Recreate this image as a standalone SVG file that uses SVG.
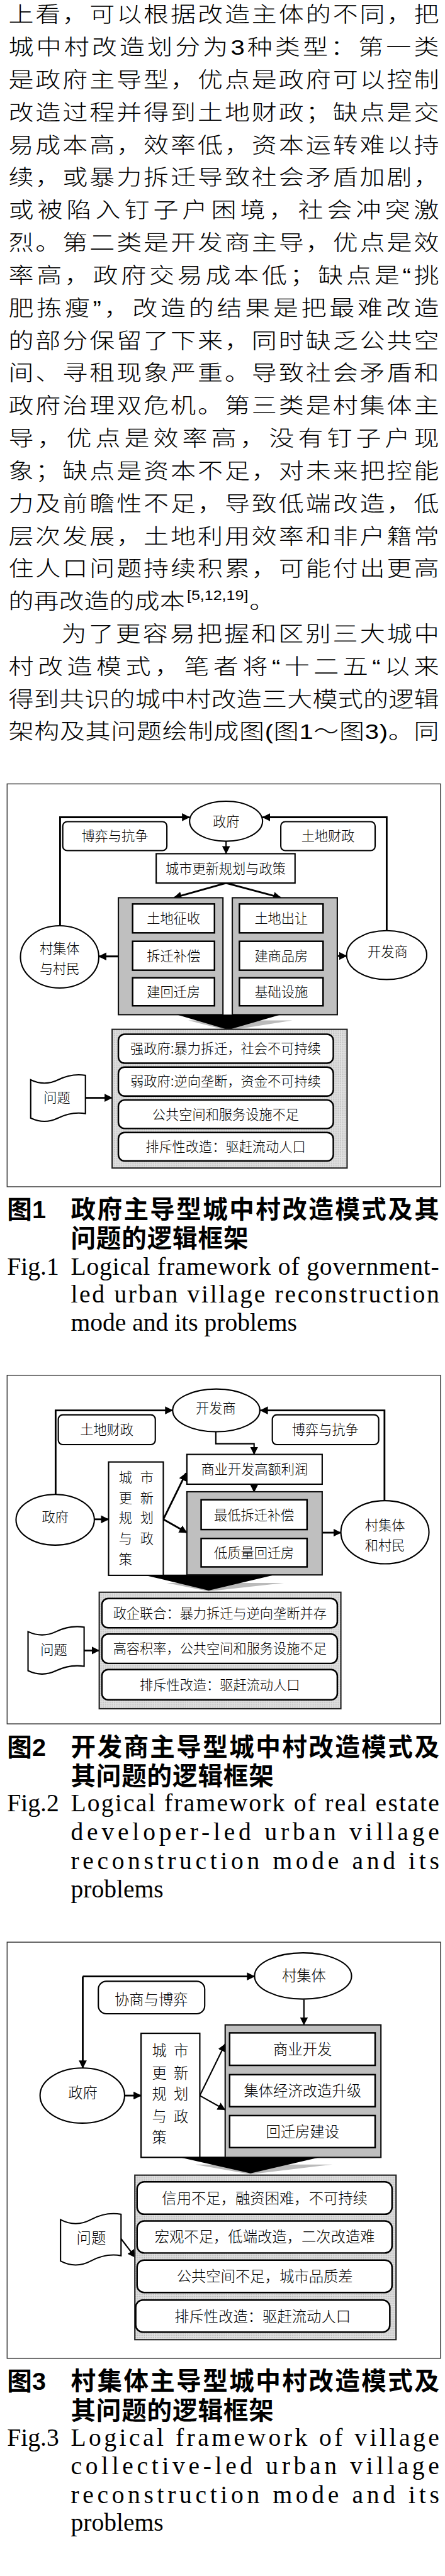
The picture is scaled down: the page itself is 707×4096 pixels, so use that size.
<svg xmlns="http://www.w3.org/2000/svg" width="707" height="4096" viewBox="0 0 707 4096">
<defs>
<style>
text{fill:#000}
.bt{font-family:"Liberation Sans","Noto Sans CJK SC",sans-serif;font-size:48px;font-weight:300}
.sup{font-family:"Liberation Sans",sans-serif;font-size:30px}
.cap{font-family:"Liberation Sans","Noto Sans CJK SC",sans-serif;font-size:56px;font-weight:700}
.en{font-family:"Liberation Serif",serif;font-size:56px}
.l30{font-family:"Liberation Sans","Noto Sans CJK SC",sans-serif;font-size:30px;text-anchor:middle;font-weight:300}
.l33{font-family:"Liberation Sans","Noto Sans CJK SC",sans-serif;font-size:33px;text-anchor:middle;font-weight:300}
.frame{fill:#fff;stroke:#333;stroke-width:2}
.box{fill:#fff;stroke:#000;stroke-width:3}
.ibox{fill:#fff;stroke:#000;stroke-width:3.5}
.gp{fill:#bfbfbf;stroke:#111;stroke-width:3}
.pp{fill:url(#dots);stroke:#222;stroke-width:3}
.rb{fill:#fff;stroke:#000;stroke-width:3.5}
.el{fill:#fff;stroke:#000;stroke-width:3}
.c{fill:none;stroke:#000;stroke-width:3}
.ct{fill:none;stroke:#000;stroke-width:4}
.c2{fill:none;stroke:#000;stroke-width:2}
</style>
<pattern id="dots" patternUnits="userSpaceOnUse" width="4" height="4"><rect width="4" height="4" fill="#e2e2e2"/><rect width="2" height="2" fill="#b2b2b2"/></pattern>
<marker id="ah" markerUnits="userSpaceOnUse" markerWidth="18" markerHeight="18" refX="17" refY="9" orient="auto" viewBox="0 0 18 18"><path d="M0,0 L18,9 L0,18 Z" fill="#000"/></marker>
</defs>
<rect width="707" height="4096" fill="#fff"/>
<g transform="scale(0.707)">

<!-- body text -->
<g id="bodytext" transform="scale(1.18,1)">
<text class="bt" x="16.1" y="50" textLength="820" lengthAdjust="spacing">上看，可以根据改造主体的不同，把</text>
<text class="bt" x="16.1" y="123.3" textLength="820" lengthAdjust="spacing">城中村改造划分为3种类型：第一类</text>
<text class="bt" x="16.1" y="196.6" textLength="820" lengthAdjust="spacing">是政府主导型，优点是政府可以控制</text>
<text class="bt" x="16.1" y="269.9" textLength="820" lengthAdjust="spacing">改造过程并得到土地财政；缺点是交</text>
<text class="bt" x="16.1" y="343.2" textLength="820" lengthAdjust="spacing">易成本高，效率低，资本运转难以持</text>
<text class="bt" x="16.1" y="416.5" textLength="820" lengthAdjust="spacing">续，或暴力拆迁导致社会矛盾加剧，</text>
<text class="bt" x="16.1" y="489.8" textLength="820" lengthAdjust="spacing">或被陷入钉子户困境，社会冲突激</text>
<text class="bt" x="16.1" y="563.1" textLength="820" lengthAdjust="spacing">烈。第二类是开发商主导，优点是效</text>
<text class="bt" x="16.1" y="636.4" textLength="820" lengthAdjust="spacing">率高，政府交易成本低；缺点是“挑</text>
<text class="bt" x="16.1" y="709.7" textLength="820" lengthAdjust="spacing">肥拣瘦”，改造的结果是把最难改造</text>
<text class="bt" x="16.1" y="783" textLength="820" lengthAdjust="spacing">的部分保留了下来，同时缺乏公共空</text>
<text class="bt" x="16.1" y="856.3" textLength="820" lengthAdjust="spacing">间、寻租现象严重。导致社会矛盾和</text>
<text class="bt" x="16.1" y="929.6" textLength="820" lengthAdjust="spacing">政府治理双危机。第三类是村集体主</text>
<text class="bt" x="16.1" y="1002.9" textLength="820" lengthAdjust="spacing">导，优点是效率高，没有钉子户现</text>
<text class="bt" x="16.1" y="1076.2" textLength="820" lengthAdjust="spacing">象；缺点是资本不足，对未来把控能</text>
<text class="bt" x="16.1" y="1149.5" textLength="820" lengthAdjust="spacing">力及前瞻性不足，导致低端改造，低</text>
<text class="bt" x="16.1" y="1222.8" textLength="820" lengthAdjust="spacing">层次发展，土地利用效率和非户籍常</text>
<text class="bt" x="16.1" y="1296.1" textLength="820" lengthAdjust="spacing">住人口问题持续积累，可能付出更高</text>
<text class="bt" x="16.1" y="1369.4">的再改造的成本</text>
<text class="sup" x="356" y="1350">[5,12,19]</text>
<text class="bt" x="475" y="1369.4">。</text>
<text class="bt" x="117" y="1442.7" textLength="719.5" lengthAdjust="spacing">为了更容易把握和区别三大城中</text>
<text class="bt" x="16.1" y="1516" textLength="820" lengthAdjust="spacing">村改造模式，笔者将“十二五“以来</text>
<text class="bt" x="16.1" y="1589.3" textLength="820" lengthAdjust="spacing">得到共识的城中村改造三大模式的逻辑</text>
<text class="bt" x="16.1" y="1662.6" textLength="820" lengthAdjust="spacing">架构及其问题绘制成图(图1～图3)。同</text>
</g>

<!-- ================= Figure 1 ================= -->
<rect id="fig1-frame" class="frame" x="16" y="1763" width="974" height="906"/>
<g id="fig1-connectors">
<path class="ct" d="M135,2082 V1838 H426" marker-end="url(#ah)"/>
<path class="ct" d="M869,2093 V1838 H590" marker-end="url(#ah)"/>
<path class="c" d="M508,1892 V1920" marker-end="url(#ah)"/>
<path class="ct" d="M508,1986 L391,2019" marker-end="url(#ah)"/>
<path class="ct" d="M508,1986 L631,2019" marker-end="url(#ah)"/>
<path class="ct" d="M266,2151 H222" marker-end="url(#ah)"/>
<path class="ct" d="M758,2150 H779" marker-end="url(#ah)"/>
<path class="ct" d="M192,2469 H252" marker-end="url(#ah)"/>
</g>
<g id="f1-gov"><ellipse class="el" cx="508" cy="1847" rx="82" ry="45"/><text class="l30" x="508" y="1858">政府</text></g>
<g id="f1-game"><rect class="box" x="141" y="1848" width="234" height="65" rx="10"/><text class="l30" x="258" y="1891">博弈与抗争</text></g>
<g id="f1-landfin"><rect class="box" x="631" y="1848" width="212" height="65" rx="10"/><text class="l30" x="737" y="1891">土地财政</text></g>
<g id="f1-plan"><rect class="box" x="351" y="1920" width="312" height="66"/><text class="l30" x="507" y="1964">城市更新规划与政策</text></g>
<g id="f1-left">
<rect class="gp" x="266" y="2019" width="235" height="263"/>
<rect class="ibox" x="298" y="2033" width="184" height="65"/><text class="l30" x="390" y="2076">土地征收</text>
<rect class="ibox" x="298" y="2117" width="184" height="65"/><text class="l30" x="390" y="2161">拆迁补偿</text>
<rect class="ibox" x="298" y="2199" width="184" height="63"/><text class="l30" x="390" y="2242">建回迁房</text>
</g>
<g id="f1-right">
<rect class="gp" x="522" y="2019" width="236" height="263"/>
<rect class="ibox" x="538" y="2033" width="188" height="65"/><text class="l30" x="632" y="2076">土地出让</text>
<rect class="ibox" x="538" y="2117" width="188" height="65"/><text class="l30" x="632" y="2161">建商品房</text>
<rect class="ibox" x="538" y="2199" width="188" height="63"/><text class="l30" x="632" y="2242">基础设施</text>
</g>
<g id="f1-village"><ellipse class="el" cx="134" cy="2152" rx="88" ry="70"/><text class="l30" x="134" y="2144">村集体</text><text class="l30" x="134" y="2189">与村民</text></g>
<g id="f1-dev"><ellipse class="el" cx="869" cy="2148" rx="90" ry="55"/><text class="l30" x="871" y="2151">开发商</text></g>
<g id="f1-funnel"><polygon points="423,2295 657,2295 513,2318" fill="#bbb"/><polygon points="397,2282 631,2282 513,2316" fill="#000"/></g>
<g id="f1-problems">
<rect class="pp" x="252" y="2315" width="528" height="312"/>
<rect class="rb" x="266" y="2326" width="483" height="65" rx="14"/><text class="l30" x="507" y="2369">强政府:暴力拆迁，社会不可持续</text>
<rect class="rb" x="266" y="2400" width="483" height="65" rx="14"/><text class="l30" x="507" y="2443">弱政府:逆向垄断，资金不可持续</text>
<rect class="rb" x="266" y="2474" width="483" height="64" rx="14"/><text class="l30" x="507" y="2517">公共空间和服务设施不足</text>
<rect class="rb" x="266" y="2547" width="483" height="64" rx="14"/><text class="l30" x="507" y="2590">排斥性改造：驱赶流动人口</text>
</g>
<g id="f1-issue"><path class="c" style="fill:#fff" d="M69,2428.5 Q99.75,2443.5 130.5,2428.5 T192,2418.5 L192,2504.5 Q161.25,2499.5 130.5,2514.5 T69,2514.5 Z"/><text class="l30" x="128" y="2479">问题</text></g>

<g id="fig1-caption">
<text class="cap" x="16" y="2740">图1</text>
<text class="cap" x="159" y="2740" textLength="828" lengthAdjust="spacing">政府主导型城中村改造模式及其</text>
<text class="cap" x="159" y="2805" textLength="399" lengthAdjust="spacing">问题的逻辑框架</text>
<text class="en" x="16" y="2867">Fig.1</text>
<text class="en" x="159" y="2867" textLength="828" lengthAdjust="spacing">Logical framework of government-</text>
<text class="en" x="159" y="2929" textLength="828" lengthAdjust="spacing">led urban village reconstruction</text>
<text class="en" x="159" y="2993">mode and its problems</text>
</g>

<!-- ================= Figure 2 ================= -->
<rect id="fig2-frame" class="frame" x="16" y="3093" width="974" height="784"/>
<g id="fig2-connectors">
<path class="ct" d="M125,3362 V3172 H388" marker-end="url(#ah)"/>
<path class="ct" d="M864,3375 V3172 H585" marker-end="url(#ah)"/>
<path class="c" d="M485,3220 V3247 H571 V3271" marker-end="url(#ah)"/>
<path class="c" d="M571,3338 V3356" marker-end="url(#ah)"/>
<path class="ct" d="M212,3417 H244" marker-end="url(#ah)"/>
<path class="ct" d="M367,3417 L418,3313" marker-end="url(#ah)"/>
<path class="ct" d="M367,3417 L420,3447" marker-end="url(#ah)"/>
<path class="ct" d="M724,3447 H766" marker-end="url(#ah)"/>
<path class="ct" d="M189,3712 H223" marker-end="url(#ah)"/>
</g>
<g id="f2-dev"><ellipse class="el" cx="486" cy="3172" rx="98" ry="48"/><text class="l30" x="485" y="3178">开发商</text></g>
<g id="f2-landfin"><rect class="box" x="131" y="3182" width="218" height="67" rx="10"/><text class="l30" x="240" y="3227">土地财政</text></g>
<g id="f2-game"><rect class="box" x="612" y="3182" width="239" height="67" rx="10"/><text class="l30" x="731" y="3227">博弈与抗争</text></g>
<g id="f2-profit"><rect class="box" x="420" y="3271" width="304" height="67"/><text class="l30" x="572" y="3316">商业开发高额利润</text></g>
<g id="f2-panel">
<rect class="gp" x="420" y="3355" width="304" height="187"/>
<rect class="ibox" x="452" y="3373" width="238" height="67"/><text class="l30" x="571" y="3418">最低拆迁补偿</text>
<rect class="ibox" x="452" y="3460" width="238" height="64"/><text class="l30" x="571" y="3503">低质量回迁房</text>
</g>
<g id="f2-plan">
<rect class="box" x="244" y="3288" width="123" height="255"/>
<path class="c" d="M367,3543 H420"/>
<text class="l30" x="282" y="3334">城</text><text class="l30" x="330" y="3334">市</text>
<text class="l30" x="282" y="3381">更</text><text class="l30" x="330" y="3381">新</text>
<text class="l30" x="282" y="3424">规</text><text class="l30" x="330" y="3424">划</text>
<text class="l30" x="282" y="3471">与</text><text class="l30" x="330" y="3471">政</text>
<text class="l30" x="282" y="3518">策</text>
</g>
<g id="f2-gov"><ellipse class="el" cx="124" cy="3418" rx="88" ry="57"/><text class="l30" x="124" y="3423">政府</text></g>
<g id="f2-village"><ellipse class="el" cx="865" cy="3446" rx="99" ry="71"/><text class="l30" x="865" y="3441">村集体</text><text class="l30" x="865" y="3486">和村民</text></g>
<g id="f2-funnel"><polygon points="375,3560 638,3560 469,3579" fill="#bbb"/><polygon points="327,3543 612,3543 469,3577" fill="#000"/></g>
<g id="f2-problems">
<rect class="pp" x="223" y="3581" width="543" height="262"/>
<rect class="rb" x="229" y="3595" width="529" height="66" rx="14"/><text class="l30" x="494" y="3639">政企联合：暴力拆迁与逆向垄断并存</text>
<rect class="rb" x="229" y="3675" width="529" height="66" rx="14"/><text class="l30" x="494" y="3719">高容积率，公共空间和服务设施不足</text>
<rect class="rb" x="229" y="3755" width="529" height="68" rx="14"/><text class="l30" x="494" y="3800">排斥性改造：驱赶流动人口</text>
</g>
<g id="f2-issue"><path class="c" style="fill:#fff" d="M63,3669.5 Q94.5,3684.5 126,3669.5 T189,3659.5 L189,3747.5 Q157.5,3742.5 126,3757.5 T63,3757.5 Z"/><text class="l30" x="121" y="3721">问题</text></g>

<g id="fig2-caption">
<text class="cap" x="16" y="3949">图2</text>
<text class="cap" x="159" y="3949" textLength="828" lengthAdjust="spacing">开发商主导型城中村改造模式及</text>
<text class="cap" x="159" y="4014" textLength="456" lengthAdjust="spacing">其问题的逻辑框架</text>
<text class="en" x="16" y="4073">Fig.2</text>
<text class="en" x="159" y="4073" textLength="828" lengthAdjust="spacing">Logical framework of real estate</text>
<text class="en" x="159" y="4138" textLength="828" lengthAdjust="spacing">developer-led urban village</text>
<text class="en" x="159" y="4203" textLength="828" lengthAdjust="spacing">reconstruction mode and its</text>
<text class="en" x="159" y="4267">problems</text>
</g>

<!-- ================= Figure 3 ================= -->
<rect id="fig3-frame" class="frame" x="16" y="4368" width="974" height="936"/>
<g id="fig3-connectors">
<path class="ct" d="M186,4445 H572" marker-end="url(#ah)"/>
<path class="ct" d="M186,4445 V4651" marker-end="url(#ah)"/>
<path class="ct" d="M280,4713 H317" marker-end="url(#ah)"/>
<path class="c" d="M449,4713 L506,4597" marker-end="url(#ah)"/>
<path class="c" d="M449,4713 L506,4745" marker-end="url(#ah)"/>
<path class="c" d="M683,4497 V4554" marker-end="url(#ah)"/>
<path class="c" d="M272,5035 L304,5077" marker-end="url(#ah)"/>
</g>
<g id="f3-village"><ellipse class="el" cx="681" cy="4444" rx="109" ry="52"/><text class="l33" x="683" y="4456">村集体</text></g>
<g id="f3-negot"><rect class="box" x="221" y="4456" width="239" height="73" rx="18"/><text class="l33" x="340" y="4509">协商与博弈</text></g>
<g id="f3-gov"><ellipse class="el" cx="185" cy="4713" rx="95" ry="62"/><text class="l33" x="186" y="4718">政府</text></g>
<g id="f3-plan">
<rect class="box" x="317" y="4573" width="132" height="279"/>
<path class="c" d="M449,4852 H506"/>
<text class="l33" x="358" y="4624">城</text><text class="l33" x="407" y="4624">市</text>
<text class="l33" x="358" y="4674">更</text><text class="l33" x="407" y="4674">新</text>
<text class="l33" x="358" y="4722">规</text><text class="l33" x="407" y="4722">划</text>
<text class="l33" x="358" y="4772">与</text><text class="l33" x="407" y="4772">政</text>
<text class="l33" x="358" y="4819">策</text>
</g>
<g id="f3-panel">
<rect class="gp" x="506" y="4554" width="350" height="298"/>
<rect class="ibox" x="516" y="4572" width="327" height="73"/><text class="l33" x="680" y="4621">商业开发</text>
<rect class="ibox" x="516" y="4666" width="327" height="72"/><text class="l33" x="680" y="4714">集体经济改造升级</text>
<rect class="ibox" x="516" y="4758" width="327" height="72"/><text class="l33" x="680" y="4806">回迁房建设</text>
</g>
<g id="f3-funnel"><polygon points="439,4868 747,4868 563,4890" fill="#bbb"/><polygon points="404,4852 718,4852 563,4888" fill="#000"/></g>
<g id="f3-problems">
<rect class="pp" x="303" y="4892" width="587" height="370"/>
<rect class="rb" x="308" y="4907" width="573" height="73" rx="16"/><text class="l33" x="595" y="4956">信用不足，融资困难，不可持续</text>
<rect class="rb" x="308" y="4995" width="573" height="72" rx="16"/><text class="l33" x="595" y="5043">宏观不足，低端改造，二次改造难</text>
<rect class="rb" x="308" y="5083" width="573" height="73" rx="16"/><text class="l33" x="595" y="5132">公共空间不足，城市品质差</text>
<rect class="rb" x="305" y="5173" width="571" height="72" rx="16"/><text class="l33" x="590" y="5222">排斥性改造：驱赶流动人口</text>
</g>
<g id="f3-issue"><path class="c" style="fill:#fff" d="M136,4992 Q170,5010 204,4992 T272,4980 L272,5073 Q238,5067 204,5085 T136,5085 Z"/><text class="l33" x="205" y="5045">问题</text></g>

<g id="fig3-caption">
<text class="cap" x="16" y="5375">图3</text>
<text class="cap" x="159" y="5375" textLength="828" lengthAdjust="spacing">村集体主导型城中村改造模式及</text>
<text class="cap" x="159" y="5441" textLength="456" lengthAdjust="spacing">其问题的逻辑框架</text>
<text class="en" x="16" y="5500">Fig.3</text>
<text class="en" x="159" y="5500" textLength="828" lengthAdjust="spacing">Logical framework of village</text>
<text class="en" x="159" y="5565" textLength="828" lengthAdjust="spacing">collective-led urban village</text>
<text class="en" x="159" y="5630" textLength="828" lengthAdjust="spacing">reconstruction mode and its</text>
<text class="en" x="159" y="5692">problems</text>
</g>
</g>
</svg>
